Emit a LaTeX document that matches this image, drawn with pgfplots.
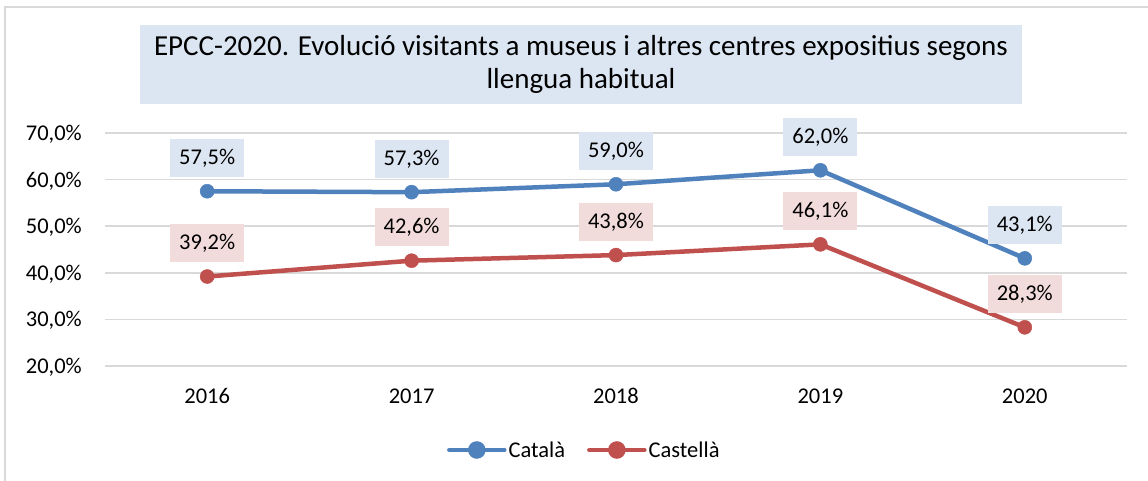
\documentclass[border=0pt]{standalone}
\usepackage{fontspec}
\setmainfont{Carlito}
\usepackage{pgfplots}
\pgfplotsset{compat=1.18}
\definecolor{catblue}{RGB}{79,129,189}
\definecolor{casred}{RGB}{192,80,77}
\definecolor{bluebg}{RGB}{220,230,242}
\definecolor{redbg}{RGB}{242,220,219}
\definecolor{gridgray}{RGB}{217,217,217}
\newcommand{\lblfont}{\fontsize{22.5}{27}\selectfont}
\begin{document}
\begin{tikzpicture}
\useasboundingbox (0,0) rectangle (1148pt,481pt);
\fill[white] (0,0) rectangle (1148pt,481pt);
\draw[gridgray, line width=1.5pt] (5pt,0) -- (5pt,474pt) -- (1148pt,474pt);
\node[fill=bluebg, minimum width=882pt, minimum height=79pt, align=center, font=\fontsize{29}{33}\selectfont, inner sep=0pt] at (581pt,416.5pt) {EPCC-2020. Evolució visitants a museus i altres centres expositius segons\\llengua habitual};
\begin{axis}[
  at={(105pt,115pt)}, anchor=south west,
  scale only axis, width=1022pt, height=233pt,
  xmin=-0.5, xmax=4.5, ymin=20, ymax=70,
  xtick={0,1,2,3,4}, xticklabels={2016,2017,2018,2019,2020},
  ytick={20,30,40,50,60,70},
  yticklabels={{20,0\%},{30,0\%},{40,0\%},{50,0\%},{60,0\%},{70,0\%}},
  axis line style={draw=none},
  major tick length=0pt,
  ymajorgrids, grid style={gridgray, line width=1.5pt},
  tick label style={font=\lblfont, inner sep=0pt},
  xticklabel style={anchor=base, yshift=-38pt},
  yticklabel style={anchor=base east, xshift=-23pt, yshift=-7.5pt},
  clip=false,
  nodes near coords={\pgfmathprintnumber[assume math mode=true,fixed,fixed zerofill,precision=1,use comma]{\pgfplotspointmeta}\%},
  every node near coord/.append style={font=\lblfont, inner xsep=9pt, inner ysep=0pt, minimum height=38pt, anchor=south, yshift=14pt, text=black},
  legend style={at={(0.469,-0.3605)}, anchor=center, draw=none, fill=none, font=\lblfont, legend columns=2, /tikz/every even column/.append style={column sep=20pt}},
  legend image code/.code={\draw[line width=4.5pt, line cap=round] (0pt,0pt) -- (55pt,0pt); \fill (27.5pt,0pt) circle (6.5pt);},
]
\addplot[catblue, line width=4.5pt, mark=*, mark size=7pt, mark options={solid, line width=0.5pt}, every node near coord/.append style={fill=bluebg}] coordinates {(0,57.5) (1,57.3) (2,59.0) (3,62.0) (4,43.1)};
\addlegendentry{Català}
\addplot[casred, line width=4.5pt, mark=*, mark size=7pt, mark options={solid, line width=0.5pt}, every node near coord/.append style={fill=redbg}] coordinates {(0,39.2) (1,42.6) (2,43.8) (3,46.1) (4,28.3)};
\addlegendentry{Castellà}
\end{axis}
\end{tikzpicture}
\end{document}
